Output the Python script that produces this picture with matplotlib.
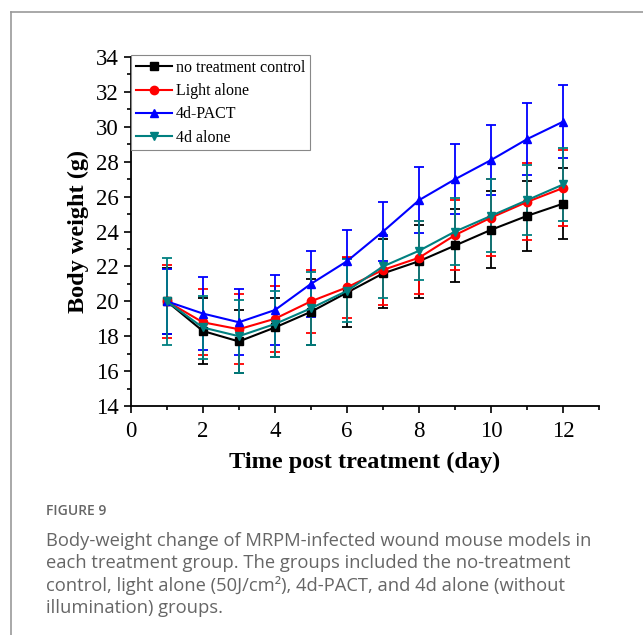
import matplotlib
matplotlib.use('Agg')
import matplotlib.pyplot as plt
from matplotlib.lines import Line2D

# Days after treatment
days = [1, 2, 3, 4, 5, 6, 7, 8, 9, 10, 11, 12]

# Mean body weight (g) and SD per group
control_mean = [20.0, 18.3, 17.7, 18.5, 19.4, 20.5, 21.6, 22.3, 23.2, 24.1, 24.9, 25.6]
control_sd = [1.9, 1.9, 1.8, 1.7, 1.9, 2.0, 2.0, 2.1, 2.1, 2.2, 2.0, 2.05]

light_mean = [20.0, 18.8, 18.4, 19.0, 20.0, 20.8, 21.8, 22.5, 23.8, 24.8, 25.7, 26.5]
light_sd = [2.1, 1.9, 2.0, 1.9, 1.8, 1.75, 2.0, 2.1, 2.0, 2.2, 2.2, 2.2]

pact_mean = [20.0, 19.3, 18.8, 19.5, 21.0, 22.3, 24.0, 25.8, 27.0, 28.1, 29.3, 30.3]
pact_sd = [1.85, 2.1, 1.9, 2.0, 1.9, 1.8, 1.7, 1.9, 2.0, 2.0, 2.05, 2.1]

alone_mean = [20.0, 18.5, 18.0, 18.7, 19.6, 20.6, 22.0, 22.9, 24.0, 24.9, 25.8, 26.7]
alone_sd = [2.5, 1.8, 2.1, 1.9, 2.1, 1.8, 1.8, 1.7, 1.9, 2.1, 2.0, 2.1]

labels = ['no treatment control', 'Light alone', '4d-PACT', '4d alone']
colors = ['black', '#ff0000', '#0000ff', '#008080']
markers = ['s', 'o', '^', 'v']
means = [control_mean, light_mean, pact_mean, alone_mean]
sds = [control_sd, light_sd, pact_sd, alone_sd]

caption_title = 'FIGURE 9'
caption_text = ('Body-weight change of MRPM-infected wound mouse models in\n'
                'each treatment group. The groups included the no-treatment\n'
                'control, light alone (50J/cm\u00b2), 4d-PACT, and 4d alone (without\n'
                'illumination) groups.')

serif = ['Liberation Serif', 'DejaVu Serif']

fig = plt.figure(figsize=(6.43, 6.35), dpi=100)

# thin page frame on the left and top
fig.add_artist(Line2D([11 / 643, 11 / 643], [0, 1 - 12 / 635], color='#9a9a9a', lw=1.2))
fig.add_artist(Line2D([11 / 643, 1], [1 - 12 / 635, 1 - 12 / 635], color='#9a9a9a', lw=1.2))

ax = fig.add_axes([0.2033, 0.3606, 0.7288, 0.5496])

handles = []
for m, s, c, mk, lab in zip(means, sds, colors, markers, labels):
    ax.errorbar(days, m, yerr=s, color=c, ecolor=c, elinewidth=1.3, capsize=3.6,
                capthick=1.3, lw=1.5, marker=mk, markersize=6, clip_on=False)
    handles.append(Line2D([], [], color=c, lw=1.5, marker=mk, markersize=6))

ax.set_xlim(0, 13)
ax.set_ylim(14, 34)
ax.set_xticks(range(0, 13, 2))
ax.set_xticks(range(1, 14, 2), minor=True)
ax.set_yticks(range(14, 35, 2))
ax.set_yticks(range(15, 34, 2), minor=True)

for side in ['top', 'right']:
    ax.spines[side].set_visible(False)
for side in ['left', 'bottom']:
    ax.spines[side].set_linewidth(1.3)

ax.tick_params(which='major', direction='out', length=5, width=1.2, labelsize=16.5)
ax.tick_params(axis='x', which='major', pad=6)
ax.tick_params(which='minor', direction='out', length=3, width=1.2)
for t in ax.get_xticklabels() + ax.get_yticklabels():
    t.set_family(serif)

ax.set_xlabel('Time post treatment (day)', fontsize=17.5, fontweight='bold', family=serif, labelpad=7)
ax.set_ylabel('Body weight (g)', fontsize=17.5, fontweight='bold', family=serif, labelpad=5)

leg = ax.legend(handles, labels, loc='upper left', bbox_to_anchor=(0, 1.005), frameon=True,
                fancybox=False, edgecolor='#888888', framealpha=1, borderpad=0.3,
                labelspacing=0.45, handlelength=2.3, handletextpad=0.25, borderaxespad=0,
                prop={'family': serif, 'size': 11.5})
leg.get_frame().set_linewidth(0.8)

fig.text(46 / 643, 1 - 511 / 635, caption_title, fontsize=10, color='#666666',
         family=['Open Sans', 'DejaVu Sans'], fontweight='semibold', va='center')
fig.text(46 / 643, 1 - 532 / 635, caption_text, fontsize=13.2, color='#666666',
         family=['Open Sans', 'DejaVu Sans'], va='top', linespacing=1.28)

fig.savefig('out.png', dpi=100)
